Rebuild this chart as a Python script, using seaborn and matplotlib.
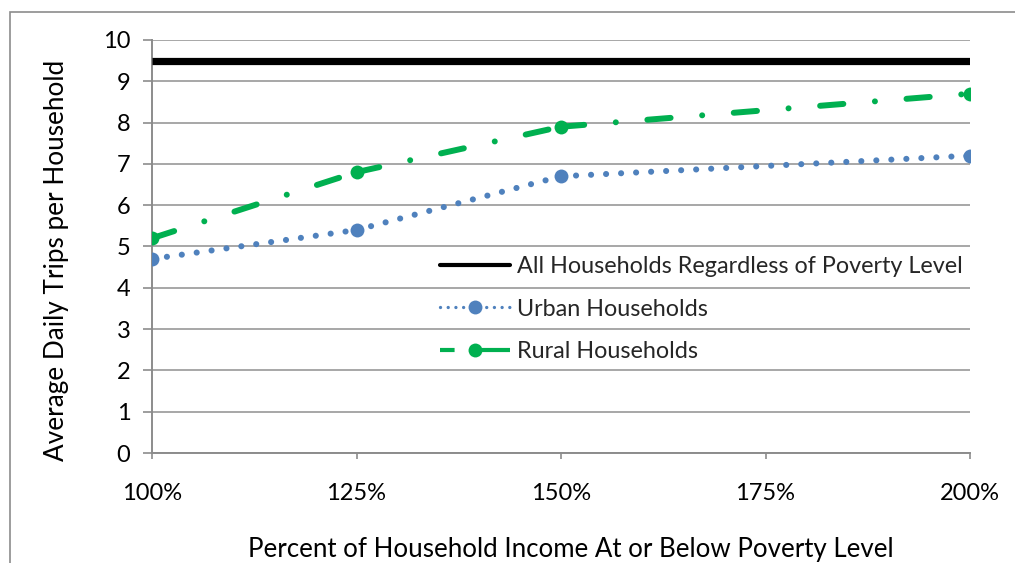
import matplotlib
matplotlib.use("Agg")
import matplotlib.pyplot as plt
from matplotlib.lines import Line2D
from matplotlib.patches import Rectangle
import seaborn as sns
import pandas as pd

# Percent of household income relative to the poverty level
x_ticks = [100, 125, 150, 175, 200]
x_tick_labels = ["100%", "125%", "150%", "175%", "200%"]
poverty_pct = [100, 125, 150, 200]

# Average daily trips per household
all_households = [9.5, 9.5, 9.5, 9.5, 9.5]
urban_households = [4.7, 5.4, 6.7, 7.2]
rural_households = [5.2, 6.8, 7.9, 8.7]

series_labels = ["All Households Regardless of Poverty Level",
                 "Urban Households", "Rural Households"]

BLUE = "#4F81BD"
GREEN = "#00B050"
GRID = "#A0A0A0"
AXIS = "#8C8C8C"
FONT = "Lato"

sns.set_theme(style="white")
plt.rcParams["font.family"] = [FONT, "DejaVu Sans"]

W, H = 1015, 563
fig = plt.figure(figsize=(W / 100, H / 100), dpi=100)
ax = fig.add_axes([152 / W, 1 - 453 / H, (970 - 152) / W, (453 - 40) / H])

urban_style = dict(color=BLUE, lw=4.4, linestyle=(0, (0.01, 2.45)),
                   dash_capstyle="round", solid_capstyle="round")
rural_style = dict(color=GREEN, lw=4.3, linestyle=(0, (3.9, 5.3, 0.01, 5.3)),
                   dash_capstyle="round")

df_all = pd.DataFrame({"x": x_ticks, "y": all_households})
sns.lineplot(data=df_all, x="x", y="y", ax=ax, color="black", lw=5.2,
             solid_capstyle="butt", zorder=4, legend=False)


def draw_series(xs, ys, style, z):
    # each segment restarts its dash pattern at the data point
    for i in range(len(xs) - 1):
        seg = pd.DataFrame({"x": xs[i:i + 2], "y": ys[i:i + 2]})
        sns.lineplot(data=seg, x="x", y="y", ax=ax, legend=False,
                     zorder=z, **style)
    pts = pd.DataFrame({"x": xs, "y": ys})
    sns.scatterplot(data=pts, x="x", y="y", ax=ax, color=style["color"],
                    s=10 ** 2, edgecolor=style["color"], linewidth=0,
                    zorder=z + 0.5, legend=False)


draw_series(poverty_pct, urban_households, urban_style, 3)
draw_series(poverty_pct, rural_households, rural_style, 3.2)

ax.set_xlim(100, 200)
ax.set_ylim(0, 10)
ax.set_xticks(x_ticks)
ax.set_xticklabels(x_tick_labels)
ax.set_yticks(range(0, 11))
ax.set_xlabel("")
ax.set_ylabel("")

ax.grid(axis="y", color=GRID, lw=1.3)
ax.grid(axis="x", visible=False)
ax.set_axisbelow(True)
for side in ["top", "right"]:
    ax.spines[side].set_visible(False)
for side in ["left", "bottom"]:
    ax.spines[side].set_color(AXIS)
    ax.spines[side].set_linewidth(1.4)

ax.tick_params(axis="y", direction="out", length=6.5, width=1.2, color=AXIS,
               pad=9, labelsize=17, labelcolor="black", left=True)
ax.tick_params(axis="x", direction="out", length=4.5, width=1.2, color=AXIS,
               pad=17, labelsize=17, labelcolor="black", bottom=True)

fig.text(571 / W, 1 - 550 / H,
         "Percent of Household Income At or Below Poverty Level",
         ha="center", va="center", fontsize=18.6, color="black")
fig.text(57 / W, 1 - 260 / H, "Average Daily Trips per Household",
         ha="center", va="center", rotation=90, fontsize=18.8, color="black")

handles = [
    Line2D([], [], color="black", lw=3.0),
    Line2D([], [], marker="o", markersize=10, markeredgewidth=0,
           **{**urban_style, "lw": 2.4, "linestyle": (0, (0.01, 2.3))}),
    Line2D([], [], marker="o", markersize=10, markeredgewidth=0,
           color=GREEN, lw=3.0, linestyle=(0, (3.5, 3.6, 12, 1)),
           dash_capstyle="butt"),
]
fig.legend(handles, series_labels, loc="center left",
           bbox_to_anchor=(440 / W, 1 - 309 / H), frameon=False,
           borderpad=0, borderaxespad=0, handlelength=3.0, handletextpad=0.3,
           labelspacing=0.92, fontsize=16.8, numpoints=1)

# outer chart frame
fig.patches.append(Rectangle((9.5 / W, -0.1), 2, 1 - 12.5 / H + 0.1,
                             transform=fig.transFigure, fill=False,
                             edgecolor=AXIS, lw=1.2, zorder=0))

fig.savefig("out.png", dpi=100)
